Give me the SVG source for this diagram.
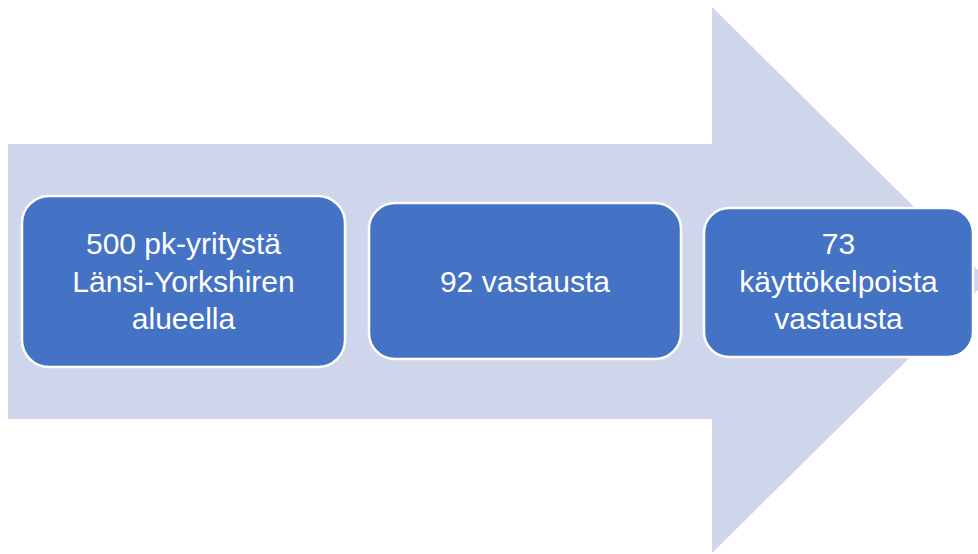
<svg xmlns="http://www.w3.org/2000/svg" width="978" height="554" viewBox="0 0 978 554">
<style>
.box{fill:#4472C4;stroke:#FFFFFF;stroke-width:2.5}
.t{fill:#FFFFFF;font-family:"Liberation Sans",Arial,sans-serif;font-size:30px;text-anchor:middle}
</style>
<rect width="978" height="554" fill="#FFFFFF"/>
<g id="arrow">
<polygon points="8,144 712,144 712,7 988,280 712,553 712,419 8,419" fill="#CFD5EA"/>
</g>
<g id="connectors"></g>
<g id="node1">
<rect class="box" x="22" y="196" width="323" height="171" rx="27"/>
<text class="t" x="183.5" y="254">500 pk-yritystä</text>
<text class="t" x="183.5" y="292">Länsi-Yorkshiren</text>
<text class="t" x="183.5" y="329">alueella</text>
</g>
<g id="node2">
<rect class="box" x="369" y="203" width="312" height="156" rx="26"/>
<text class="t" x="525" y="292">92 vastausta</text>
</g>
<g id="node3">
<rect class="box" x="704" y="208" width="269" height="149" rx="25"/>
<text class="t" x="838.5" y="254">73</text>
<text class="t" x="838.5" y="292">käyttökelpoista</text>
<text class="t" x="838.5" y="329">vastausta</text>
</g>
</svg>
